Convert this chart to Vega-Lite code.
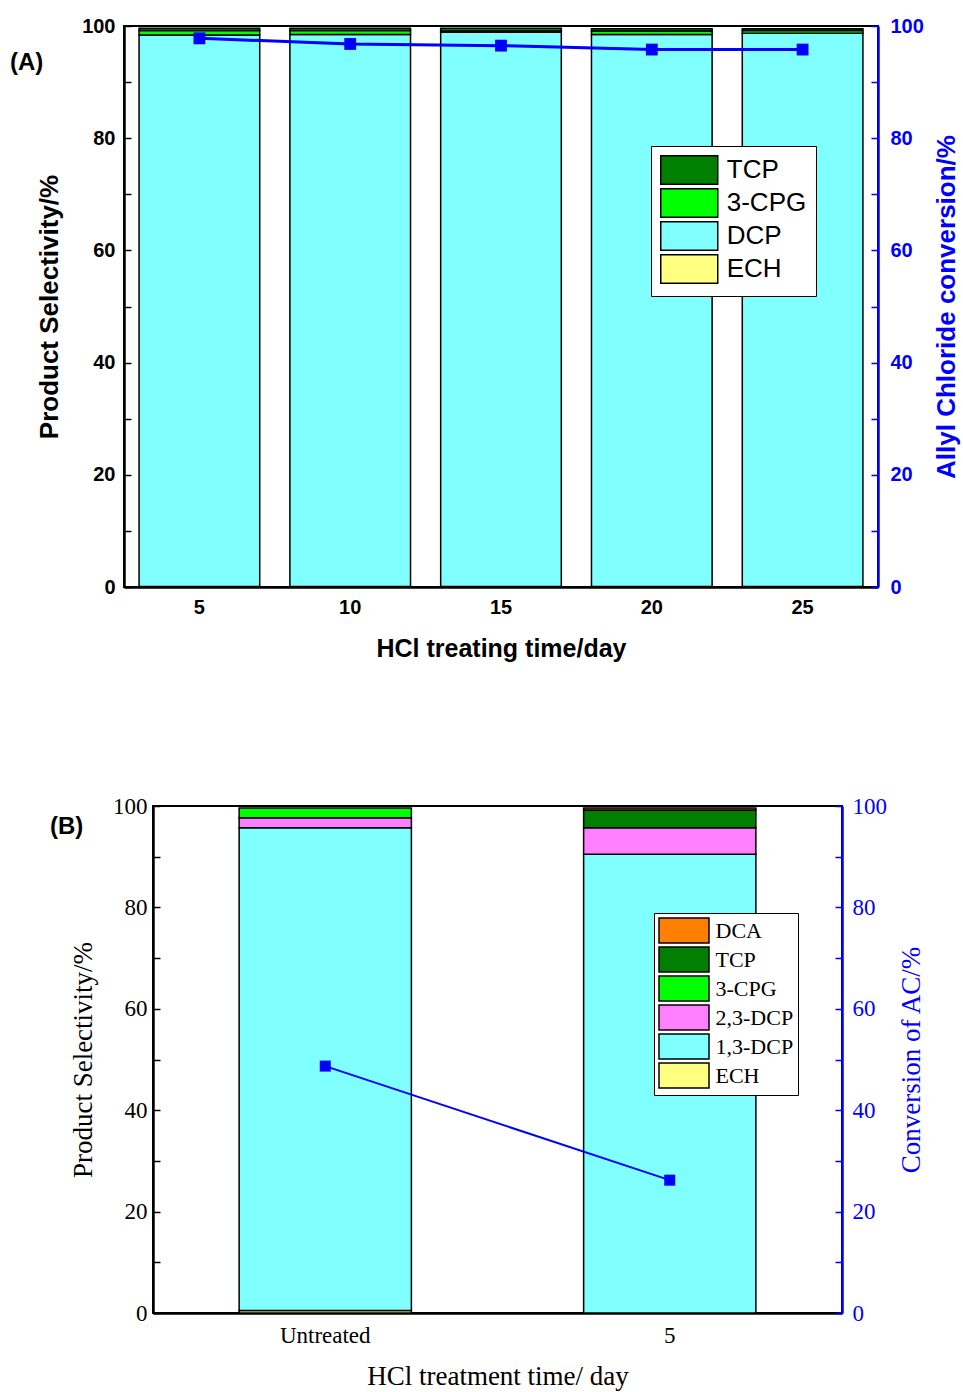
{
  "$schema": "https://vega.github.io/schema/vega-lite/v6.json",
  "padding": {"left": 2, "top": 15, "right": 5, "bottom": 5},
  "background": "white",
  "spacing": 132,
  "config": {
    "view": {"stroke": "black", "strokeWidth": 2},
    "axis": {"grid": false}
  },
  "resolve": {"scale": {"color": "independent"}, "legend": {"color": "independent"}},
  "datasets": {
    "selA": [
      {"day": 5, "comp": "ECH", "val": 0.1, "rank": 1},
      {"day": 5, "comp": "DCP", "val": 98.3, "rank": 2},
      {"day": 5, "comp": "3-CPG", "val": 0.8, "rank": 3},
      {"day": 5, "comp": "TCP", "val": 0.4, "rank": 4},
      {"day": 10, "comp": "ECH", "val": 0.1, "rank": 1},
      {"day": 10, "comp": "DCP", "val": 98.4, "rank": 2},
      {"day": 10, "comp": "3-CPG", "val": 0.7, "rank": 3},
      {"day": 10, "comp": "TCP", "val": 0.4, "rank": 4},
      {"day": 15, "comp": "ECH", "val": 0.1, "rank": 1},
      {"day": 15, "comp": "DCP", "val": 98.8, "rank": 2},
      {"day": 15, "comp": "3-CPG", "val": 0.2, "rank": 3},
      {"day": 15, "comp": "TCP", "val": 0.5, "rank": 4},
      {"day": 20, "comp": "ECH", "val": 0.1, "rank": 1},
      {"day": 20, "comp": "DCP", "val": 98.4, "rank": 2},
      {"day": 20, "comp": "3-CPG", "val": 0.6, "rank": 3},
      {"day": 20, "comp": "TCP", "val": 0.4, "rank": 4},
      {"day": 25, "comp": "ECH", "val": 0.1, "rank": 1},
      {"day": 25, "comp": "DCP", "val": 98.6, "rank": 2},
      {"day": 25, "comp": "3-CPG", "val": 0.5, "rank": 3},
      {"day": 25, "comp": "TCP", "val": 0.3, "rank": 4}
    ],
    "convA": [
      {"day": 5, "conv": 97.8},
      {"day": 10, "conv": 96.8},
      {"day": 15, "conv": 96.5},
      {"day": 20, "conv": 95.8},
      {"day": 25, "conv": 95.8}
    ],
    "selB": [
      {"t": "Untreated", "comp": "ECH", "val": 0.5, "rank": 1},
      {"t": "Untreated", "comp": "1,3-DCP", "val": 95.2, "rank": 2},
      {"t": "Untreated", "comp": "2,3-DCP", "val": 2.0, "rank": 3},
      {"t": "Untreated", "comp": "3-CPG", "val": 1.9, "rank": 4},
      {"t": "5", "comp": "1,3-DCP", "val": 90.5, "rank": 2},
      {"t": "5", "comp": "2,3-DCP", "val": 5.2, "rank": 3},
      {"t": "5", "comp": "TCP", "val": 3.5, "rank": 5},
      {"t": "5", "comp": "DCA", "val": 0.4, "rank": 6}
    ],
    "convB": [
      {"t": "Untreated", "conv": 48.7},
      {"t": "5", "conv": 26.2}
    ],
    "blank": [{"k": 1}]
  },
  "vconcat": [
    {
      "spacing": 0,
      "hconcat": [
        {
          "width": 1, "height": 1,
          "data": {"name": "blank"},
          "mark": {"type": "point", "opacity": 0},
          "view": {"fill": "white", "stroke": null}
        },
        {
          "width": 754,
          "height": 561,
          "title": {"text": "(A)", "anchor": "start", "frame": "group", "dx": -114, "dy": 63, "fontSize": 24, "font": "Liberation Sans", "fontWeight": "bold", "color": "black"},
          "layer": [
            {
              "data": {"name": "selA"},
              "mark": {"type": "bar", "stroke": "black", "strokeWidth": 1.5},
              "encoding": {
                "x": {"field": "day", "type": "ordinal", "scale": {"type": "band", "paddingInner": 0.2, "paddingOuter": 0.1},
                  "axis": {"title": "HCl treating time/day", "labelAngle": 0, "tickSize": -11, "tickWidth": 1.5, "tickColor": "black", "labelPadding": 21, "domainColor": "black", "domainWidth": 2.5,
                    "labelFont": "Liberation Sans", "labelFontWeight": "bold", "labelFontSize": 20, "labelColor": "black",
                    "titleFont": "Liberation Sans", "titleFontWeight": "bold", "titleFontSize": 25, "titleColor": "black", "titlePadding": 19}},
                "y": {"field": "val", "type": "quantitative", "stack": "zero", "scale": {"domain": [0, 100], "nice": false},
                  "axis": {"title": "Product Selectivity/%", "values": [0,10,20,30,40,50,60,70,80,90,100], "labelExpr": "datum.value % 20 == 0 ? datum.label : ''",
                    "tickSize": -7, "tickWidth": 1.5, "tickColor": "black", "labelPadding": 16, "domainColor": "black", "domainWidth": 2.5,
                    "labelFont": "Liberation Sans", "labelFontWeight": "bold", "labelFontSize": 20, "labelColor": "black",
                    "titleFont": "Liberation Sans", "titleFontWeight": "bold", "titleFontSize": 26, "titleColor": "black", "titlePadding": 19}},
                "color": {"field": "comp", "type": "nominal",
                  "scale": {"domain": ["TCP", "3-CPG", "DCP", "ECH"], "range": ["#007F00", "#00FF00", "#80FFFF", "#FFFF80"]},
                  "legend": {"title": null, "orient": "none", "legendX": 646, "legendY": 120, "fillColor": "white", "strokeColor": "black", "padding": 9,
                    "symbolType": "M-2,-1H2V1H-2Z", "symbolSize": 812, "symbolOffset": 14.25, "symbolStrokeColor": "black", "symbolStrokeWidth": 1.5, "symbolOpacity": 1,
                    "labelFont": "Liberation Sans", "labelFontSize": 26, "labelColor": "black", "labelOffset": 22.5, "rowPadding": -3, "labelLimit": 300}},
                "order": {"field": "rank", "type": "quantitative"}
              }
            },
            {
              "data": {"name": "convA"},
              "mark": {"type": "line", "color": "#0000FF", "strokeWidth": 3, "point": {"shape": "square", "size": 140, "filled": true, "color": "#0000FF", "opacity": 1}},
              "encoding": {
                "x": {"field": "day", "type": "ordinal", "scale": {"type": "band"}},
                "y": {"field": "conv", "type": "quantitative", "scale": {"domain": [0, 100], "nice": false},
                  "axis": {"orient": "right", "title": "Allyl Chloride conversion/%", "values": [0,10,20,30,40,50,60,70,80,90,100], "labelExpr": "datum.value % 20 == 0 ? datum.label : ''",
                    "tickSize": -7, "tickWidth": 1.5, "tickColor": "#0000FF", "labelPadding": 19, "domainColor": "#0000FF", "domainWidth": 2.5,
                    "labelFont": "Liberation Sans", "labelFontWeight": "bold", "labelFontSize": 20, "labelColor": "#0000FF",
                    "titleFont": "Liberation Sans", "titleFontWeight": "bold", "titleFontSize": 26, "titleColor": "#0000FF", "titlePadding": 10, "titleAngle": 270, "titleBaseline": "top"}}
              }
            }
          ],
          "resolve": {"scale": {"y": "independent"}}
        }
      ]
    },
    {
      "spacing": 0,
      "hconcat": [
        {
          "width": 44, "height": 1,
          "data": {"name": "blank"},
          "mark": {"type": "point", "opacity": 0},
          "view": {"fill": "white", "stroke": null}
        },
        {
          "width": 689,
          "height": 507,
          "title": {"text": "(B)", "anchor": "start", "frame": "group", "dx": -103, "dy": 48, "fontSize": 24, "font": "Liberation Sans", "fontWeight": "bold", "color": "black"},
          "layer": [
            {
              "data": {"name": "selB"},
              "mark": {"type": "bar", "stroke": "black", "strokeWidth": 1.5},
              "encoding": {
                "x": {"field": "t", "type": "nominal", "scale": {"type": "band", "domain": ["Untreated", "5"], "paddingInner": 0.5, "paddingOuter": 0.25},
                  "axis": {"title": "HCl treatment time/ day", "labelAngle": 0, "tickSize": -9, "tickWidth": 1.5, "tickColor": "black", "labelPadding": 20, "domainColor": "black", "domainWidth": 2.5,
                    "labelFont": "Liberation Serif", "labelFontSize": 23, "labelColor": "black",
                    "titleFont": "Liberation Serif", "titleFontWeight": "normal", "titleFontSize": 27, "titleColor": "black", "titlePadding": 16}},
                "y": {"field": "val", "type": "quantitative", "stack": "zero", "scale": {"domain": [0, 100], "nice": false},
                  "axis": {"title": "Product Selectivity/%", "values": [0,10,20,30,40,50,60,70,80,90,100], "labelExpr": "datum.value % 20 == 0 ? datum.label : ''",
                    "tickSize": -7, "tickWidth": 1.5, "tickColor": "black", "labelPadding": 13, "domainColor": "black", "domainWidth": 2.5,
                    "labelFont": "Liberation Serif", "labelFontSize": 23, "labelColor": "black",
                    "titleFont": "Liberation Serif", "titleFontWeight": "normal", "titleFontSize": 27, "titleColor": "black", "titlePadding": 15}},
                "color": {"field": "comp", "type": "nominal",
                  "scale": {"domain": ["DCA", "TCP", "3-CPG", "2,3-DCP", "1,3-DCP", "ECH"], "range": ["#FF8000", "#007F00", "#00FF00", "#FF80FF", "#80FFFF", "#FFFF80"]},
                  "legend": {"title": null, "orient": "none", "legendX": 649, "legendY": 107, "fillColor": "white", "strokeColor": "black", "padding": 4,
                    "symbolType": "M-2,-1H2V1H-2Z", "symbolSize": 625, "symbolOffset": 12.5, "symbolStrokeColor": "black", "symbolStrokeWidth": 1.5, "symbolOpacity": 1,
                    "labelFont": "Liberation Serif", "labelFontSize": 22, "labelColor": "black", "labelOffset": 18, "rowPadding": -2.4, "labelLimit": 300}},
                "order": {"field": "rank", "type": "quantitative"}
              }
            },
            {
              "data": {"name": "convB"},
              "mark": {"type": "line", "color": "#0000FF", "strokeWidth": 2, "point": {"shape": "square", "size": 121, "filled": true, "color": "#0000FF", "opacity": 1}},
              "encoding": {
                "x": {"field": "t", "type": "nominal", "scale": {"type": "band", "domain": ["Untreated", "5"]}},
                "y": {"field": "conv", "type": "quantitative", "scale": {"domain": [0, 100], "nice": false},
                  "axis": {"orient": "right", "title": "Conversion of AC/%", "values": [0,10,20,30,40,50,60,70,80,90,100], "labelExpr": "datum.value % 20 == 0 ? datum.label : ''",
                    "tickSize": -7, "tickWidth": 1.5, "tickColor": "#0000FF", "labelPadding": 17, "domainColor": "#0000FF", "domainWidth": 2.5,
                    "labelFont": "Liberation Serif", "labelFontSize": 23, "labelColor": "#0000FF",
                    "titleFont": "Liberation Serif", "titleFontWeight": "normal", "titleFontSize": 27, "titleColor": "#0000FF", "titlePadding": 12, "titleAngle": 270, "titleBaseline": "top"}}
              }
            }
          ],
          "resolve": {"scale": {"y": "independent"}}
        }
      ]
    }
  ]
}
